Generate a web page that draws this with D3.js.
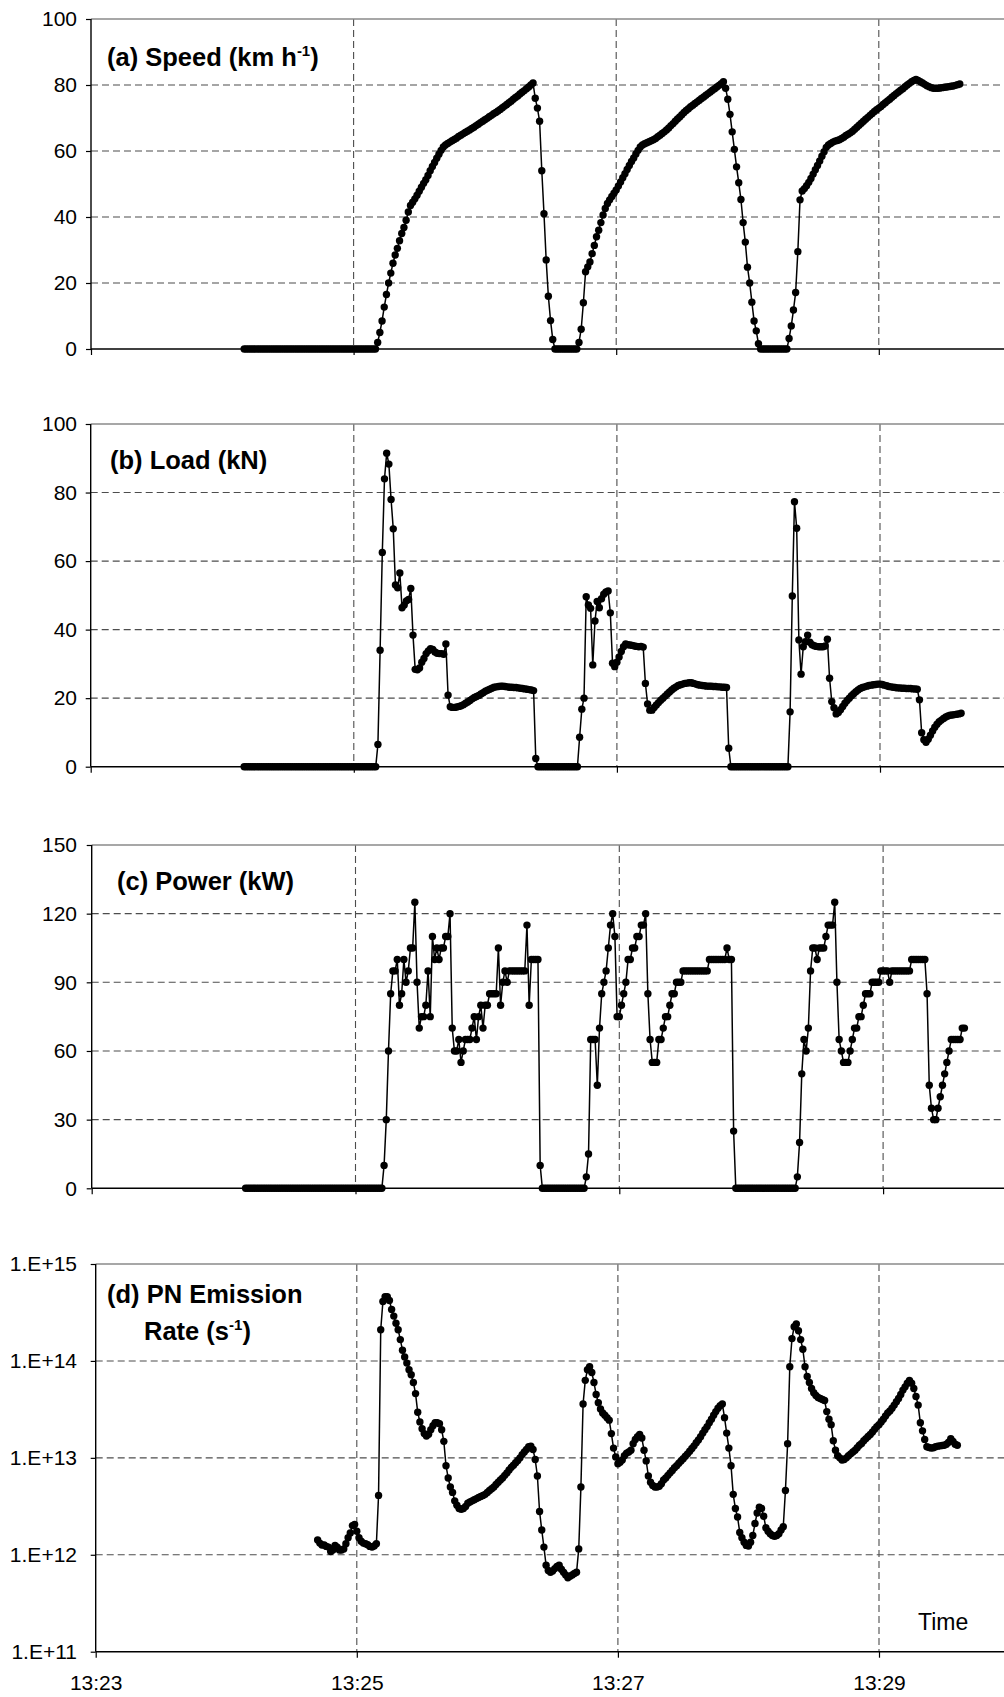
<!DOCTYPE html>
<html>
<head>
<meta charset="utf-8">
<script src="https://cdn.jsdelivr.net/npm/d3@7/dist/d3.min.js"></script>
<style>
  html, body { margin: 0; padding: 0; background: #fff; }
  svg { display: block; font-family: "Liberation Sans", Arial, Helvetica, sans-serif; }
</style>
</head>
<body>
<svg id="chart" width="1004" height="1697"></svg>
<script>
// ---- Data: one reading per second ----
const speedStart = "13:24:10";
const speedKmh = [
  0,0,0,0,0,0,0,0,0,0,0,0,0,0,0,0,0,0,0,0,0,0,0,0,0,0,0,0,0,0,0,0,0,0,0,0,0,0,0,0,0,0,0,0,0,0,0,0,0,0,0,0,0,0,0,0,0,0,0,0,0,
  2,5,8.5,12.7,16.5,20,23,26,28.5,30.5,32.8,35,36.8,39,41.5,43.5,
  44.5,45.5,46.6,47.8,49,50.2,51.3,52.6,54,55.3,56.5,57.8,59,60.2,61.2,61.8,62.3,62.7,63.1,63.5,63.9,64.4,64.8,65.2,65.6,66,
  66.4,66.8,67.2,67.7,68.1,68.6,69,69.5,69.9,70.4,70.8,71.3,71.7,72.1,72.6,73.1,73.6,74.1,74.6,75.1,75.7,76.2,76.7,77.3,77.8,
  78.3,78.9,79.4,80,80.6,
  76,73,69,54,41,27,16,8.6,2.9,
  0,0,0,0,0,0,0,0,0,0,0,
  2,6,14,23.4,24.9,26.4,28.9,31.4,34,36,38.3,40.6,42.6,44.1,
  45.2,46.2,47.2,48.2,49.4,50.6,51.9,53.1,54.4,55.6,56.8,57.9,59.1,60.2,61.2,61.8,62.2,62.5,62.8,63.1,63.4,63.8,64.3,64.8,
  65.3,65.8,66.4,67,67.7,68.3,69,69.7,70.3,71,71.7,72.3,72.8,73.4,73.9,74.4,74.9,75.4,75.9,76.4,76.9,77.4,77.9,78.4,78.9,
  79.4,79.9,80.4,81,
  79,75.7,71.1,65.8,60.5,55.2,50.4,45.3,38.3,32.4,24.8,20,14.2,8.5,5.5,1.6,
  0,0,0,0,0,0,0,0,0,0,0,0,0,
  3.2,7,11.8,17.1,29.5,45.2,47.9,
  48.6,49.5,50.5,51.7,53,54.3,55.6,57,58.4,59.8,61.1,61.8,62.3,62.7,63,63.2,63.4,63.8,64.2,64.7,65.1,65.5,66,66.6,67.2,
  67.8,68.4,69,69.6,70.2,70.8,71.4,72,72.5,73,73.5,74.1,74.6,75.2,75.7,76.3,76.8,77.4,77.9,78.4,78.9,79.5,80,80.5,81,81.4,
  81.7,81.4,81,80.6,80.2,79.8,79.5,79.2,79,79,79,79.1,79.2,79.3,79.4,79.5,79.6,79.7,79.9,80.1,80.3
];

const loadStart = "13:24:10";
const loadKN = [
  0,0,0,0,0,0,0,0,0,0,0,0,0,0,0,0,0,0,0,0,0,0,0,0,0,0,0,0,0,0,0,0,0,0,0,0,0,0,0,0,0,0,0,0,0,0,0,0,0,0,0,0,0,0,0,0,0,0,0,0,0,
  6.5,34,62.5,84,91.5,88.3,78,69.4,53,52.2,56.5,46.4,47.2,48.4,48.8,52,38.4,28.4,28.3,28.8,
  30.5,31.6,33,33.8,34.4,34.2,33.5,33.1,33,33,32.8,35.8,20.9,17.5,17.3,17.3,17.4,17.6,17.8,18.1,18.5,18.9,19.3,19.8,20.2,
  20.5,20.8,21.2,21.6,22,22.3,22.6,22.9,23.2,23.3,23.4,23.5,23.5,23.4,23.3,23.2,23.2,23.1,23.1,23,22.9,22.8,22.7,22.6,22.5,
  22.4,22.2,
  2.4,
  0,0,0,0,0,0,0,0,0,0,0,0,0,0,0,0,0,0,0,
  8.6,16.8,20,49.6,47.2,46.2,29.7,42.5,48.2,46.4,49,50.3,51,51.3,44.9,
  30.2,29.2,30.5,32,33.6,35,35.8,35.6,35.5,35.4,35.2,35.1,35,35.1,34.9,24.3,18.3,16.5,16.5,17.3,18,18.7,19.4,20,20.6,21.2,
  21.8,22.4,22.9,23.3,23.7,23.9,24.1,24.3,24.4,24.5,24.5,24.3,24.1,23.9,23.8,23.7,23.6,23.5,23.5,23.5,23.4,23.4,23.3,23.3,
  23.2,23.2,23.1,
  5.4,
  0,0,0,0,0,0,0,0,0,0,0,0,0,0,0,0,0,0,0,0,0,0,0,0,0,0,0,
  16,49.8,77.3,69.6,37,27,35,36.5,38.4,36.3,35.6,35.3,35.1,35,35,35,35.2,37.2,25.8,19,17.2,15.4,15.8,16.6,17.6,18.5,19.3,
  20,20.7,21.3,21.9,22.4,22.8,23.1,23.3,23.5,23.7,23.8,23.9,24,24.1,24.1,24,23.8,23.6,23.4,23.3,23.2,23.1,23,23,22.9,22.9,
  22.8,22.8,22.8,22.7,22.7,22.6,19.5,9.9,7.9,7.1,8,9.2,10.4,11.5,12.4,13.1,13.6,14.1,14.5,14.8,15,15.1,15.2,15.3,15.4,15.6
];

const powerStart = "13:24:10";
const powerKW = [
  0,0,0,0,0,0,0,0,0,0,0,0,0,0,0,0,0,0,0,0,0,0,0,0,0,0,0,0,0,0,0,0,0,0,0,0,0,0,0,0,0,0,0,0,0,0,0,0,0,0,0,0,0,0,0,0,0,0,0,0,
  0,0,0,
  10,30,60,85,95,95,100,80,85,100,90,95,105,105,125,90,70,75,75,80,95,75,110,100,105,100,105,105,110,110,120,70,60,60,
  65,55,60,65,65,65,70,75,65,75,80,70,80,80,85,85,85,85,105,80,90,95,90,95,95,95,95,95,95,95,95,115,80,100,100,100,100,10,
  0,0,0,0,0,0,0,0,0,0,0,0,0,0,0,0,0,0,0,0,
  5,15,65,65,65,45,70,85,90,95,105,115,120,110,75,75,80,85,90,100,100,105,105,110,110,115,115,120,85,65,55,55,55,65,65,
  70,75,75,80,85,85,90,90,90,95,95,95,95,95,95,95,95,95,95,95,95,100,100,100,100,100,100,100,100,105,100,100,25,
  0,0,0,0,0,0,0,0,0,0,0,0,0,0,0,0,0,0,0,0,0,0,0,0,0,0,0,0,
  5,20,50,65,60,70,95,105,105,100,105,105,105,110,115,115,115,125,90,65,60,55,55,55,60,65,70,70,75,75,80,85,85,85,90,90,
  90,90,95,95,95,95,90,95,95,95,95,95,95,95,95,95,100,100,100,100,100,100,100,85,45,35,30,30,35,40,45,50,55,60,65,65,65,
  65,65,70,70
];

const pnStart = "13:24:42";
const pnRate = [
  1.42e12,1.32e12,1.26e12,1.26e12,1.22e12,1.2e12,1.08e12,1.12e12,1.25e12,1.2e12,1.12e12,1.12e12,1.15e12,1.3e12,1.5e12,
  1.68e12,2.0e12,2.05e12,1.75e12,1.5e12,1.38e12,1.32e12,1.3e12,1.27e12,1.22e12,1.2e12,1.23e12,1.3e12,
  4.1e12,2.1e14,4.1e14,4.6e14,4.6e14,4.2e14,3.4e14,2.9e14,2.45e14,2.1e14,1.66e14,1.29e14,1.1e14,9.5e13,8.1e13,7.2e13,
  6.0e13,4.6e13,2.95e13,2.35e13,2.0e13,1.78e13,1.68e13,1.75e13,1.95e13,2.15e13,2.3e13,2.3e13,2.25e13,1.95e13,1.48e13,
  8.3e12,6.2e12,5.0e12,4.4e12,3.6e12,3.25e12,3.0e12,2.95e12,3.0e12,3.15e12,
  3.4e12,3.5e12,3.6e12,3.7e12,3.8e12,3.9e12,4.0e12,4.1e12,4.2e12,4.4e12,4.6e12,4.8e12,5.0e12,5.3e12,5.6e12,5.9e12,6.2e12,
  6.6e12,7.0e12,7.5e12,8.0e12,8.4e12,8.9e12,9.4e12,1.0e13,1.08e13,1.15e13,1.22e13,1.3e13,1.32e13,1.22e13,
  9.6e12,6.5e12,2.8e12,1.8e12,1.2e12,7.8e11,6.9e11,6.6e11,6.8e11,7.2e11,7.6e11,7.8e11,7.1e11,6.6e11,6.2e11,5.8e11,6.0e11,
  6.2e11,6.4e11,6.6e11,1.15e12,5.0e12,3.6e13,6.3e13,8.1e13,8.7e13,7.6e13,6.0e13,
  4.5e13,3.7e13,3.2e13,2.9e13,2.75e13,2.6e13,2.45e13,1.78e13,1.26e13,1.02e13,8.7e12,9.0e12,9.5e12,1.05e13,1.12e13,1.15e13,
  1.2e13,1.4e13,1.55e13,1.65e13,1.74e13,1.6e13,1.2e13,9.3e12,6.5e12,5.6e12,5.2e12,5.0e12,5.0e12,5.1e12,5.4e12,5.9e12,
  6.2e12,6.6e12,7.0e12,7.4e12,7.9e12,8.3e12,8.8e12,9.3e12,
  9.8e12,1.04e13,1.1e13,1.17e13,1.25e13,1.33e13,1.43e13,1.53e13,1.65e13,1.8e13,1.95e13,2.1e13,2.3e13,2.5e13,2.75e13,3.0e13,
  3.25e13,3.45e13,3.6e13,2.6e13,1.8e13,1.26e13,8.3e12,4.2e12,3.0e12,2.45e12,1.7e12,1.5e12,1.35e12,1.25e12,
  1.23e12,1.35e12,1.58e12,2.1e12,2.7e12,3.1e12,3.0e12,2.5e12,1.9e12,1.75e12,1.65e12,1.58e12,1.55e12,1.58e12,1.65e12,
  1.8e12,1.95e12,4.6e12,1.4e13,8.7e13,1.7e14,2.25e14,2.4e14,2.05e14,1.66e14,1.32e14,8.7e13,6.9e13,6.0e13,5.2e13,
  4.7e13,4.4e13,4.2e13,4.1e13,4.0e13,3.9e13,3.0e13,2.5e13,2.2e13,1.5e13,1.2e13,1.05e13,1.0e13,9.5e12,9.6e12,1.0e13,
  1.05e13,1.1e13,1.15e13,1.2e13,1.27e13,1.35e13,1.41e13,1.5e13,1.58e13,1.66e13,1.74e13,1.85e13,1.97e13,2.1e13,
  2.2e13,2.35e13,2.5e13,2.7e13,2.9e13,3.05e13,3.25e13,3.5e13,3.8e13,4.1e13,4.5e13,5.0e13,5.4e13,5.9e13,6.3e13,5.9e13,
  5.2e13,4.3e13,3.5e13,2.3e13,1.9e13,1.55e13,1.3e13,1.28e13,1.26e13,1.27e13,1.3e13,1.32e13,1.33e13,1.34e13,1.35e13,
  1.38e13,1.45e13,1.58e13,1.48e13,1.38e13,1.35e13
];

// ---- Axis ticks ----
const timeTickLabels = ["13:23", "13:25", "13:27", "13:29"];
const timeDomain = ["13:23:00", "13:31:00"];
const speedTicks = [0, 20, 40, 60, 80, 100];
const loadTicks = [0, 20, 40, 60, 80, 100];
const powerTicks = [0, 30, 60, 90, 120, 150];
const pnTicks = [1e11, 1e12, 1e13, 1e14, 1e15];

// ---- Helpers ----
const parseHMS = d3.timeParse("%H:%M:%S");
const parseHM = d3.timeParse("%H:%M");
const W = 1004;
const svg = d3.select("#chart");

function toSeries(start, values) {
  const t0 = parseHMS(start).getTime();
  return values.map((v, i) => ({ t: new Date(t0 + i * 1000), v }));
}

const panels = [
  { key: "a", series: toSeries(speedStart, speedKmh), ticks: speedTicks, log: false,
    left: 91, pxPerMin: 131.3, top: 19, bottom: 349,
    title: [{ x: 107, y: 65.5, parts: ["(a) Speed (km h", "-1", ")"] }] },
  { key: "b", series: toSeries(loadStart, loadKN), ticks: loadTicks, log: false,
    left: 90.7, pxPerMin: 131.55, top: 424, bottom: 766.7,
    title: [{ x: 110, y: 468.5, parts: ["(b) Load (kN)"] }] },
  { key: "c", series: toSeries(powerStart, powerKW), ticks: powerTicks, log: false,
    left: 91.7, pxPerMin: 131.9, top: 845, bottom: 1188.3,
    title: [{ x: 117, y: 889.5, parts: ["(c) Power (kW)"] }] },
  { key: "d", series: toSeries(pnStart, pnRate), ticks: pnTicks, log: true,
    left: 95.7, pxPerMin: 130.55, top: 1264, bottom: 1651.7,
    title: [{ x: 107, y: 1303, parts: ["(d) PN Emission"] },
            { x: 144, y: 1339.5, parts: ["Rate (s", "-1", ")"] }],
    timeLabels: true }
];

const tickLabelRight = 77;
const titleSize = 25.5;

panels.forEach(p => {
  const g = svg.append("g").attr("class", "panel-" + p.key);
  const tDom = timeDomain.map(parseHMS);
  const x = d3.scaleTime().domain(tDom).range([p.left, p.left + 8 * p.pxPerMin]);
  const y = p.log
    ? d3.scaleLog().domain([1e11, 1e15]).range([p.bottom, p.top])
    : d3.scaleLinear().domain([0, d3.max(p.ticks)]).range([p.bottom, p.top]);

  const timeTicks = timeTickLabels.map(parseHM);

  // horizontal dashed grid (inner ticks only)
  const inner = p.ticks.slice(1, -1);
  g.append("g").selectAll("line").data(inner).join("line")
    .attr("x1", p.left).attr("x2", W)
    .attr("y1", d => y(d)).attr("y2", d => y(d))
    .attr("stroke", "#4d4d4d").attr("stroke-width", 1.1)
    .attr("stroke-dasharray", "7,4");

  // vertical dashed grid at 13:25, 13:27, 13:29
  g.append("g").selectAll("line").data(timeTicks.slice(1)).join("line")
    .attr("x1", d => x(d)).attr("x2", d => x(d))
    .attr("y1", p.top).attr("y2", p.bottom)
    .attr("stroke", "#4d4d4d").attr("stroke-width", 1.1)
    .attr("stroke-dasharray", "7,4");

  // plot area top border
  g.append("line")
    .attr("x1", p.left).attr("x2", W)
    .attr("y1", p.top).attr("y2", p.top)
    .attr("stroke", "#8a8a8a").attr("stroke-width", 1.6);

  // y axis
  const yAxis = d3.axisLeft(y)
    .tickValues(p.ticks)
    .tickSize(5)
    .tickPadding(p.left - 5 - tickLabelRight)
    .tickFormat(p.log ? (d => "1.E+" + Math.round(Math.log10(d))) : d3.format("d"));
  const ya = g.append("g").attr("transform", `translate(${p.left},0)`).call(yAxis);
  ya.select(".domain").attr("stroke", "#000").attr("stroke-width", 1.4)
    .attr("d", `M0,${p.bottom}V${p.top}`);
  ya.selectAll(".tick line").attr("stroke", "#000").attr("stroke-width", 1.2);
  ya.selectAll(".tick text").attr("fill", "#000")
    .style("font-size", "21px").style("font-family", '"Liberation Sans", Arial, sans-serif');

  // x axis
  const xAxis = d3.axisBottom(x)
    .tickValues(timeTicks)
    .tickSize(6)
    .tickPadding(17)
    .tickFormat(p.timeLabels ? d3.timeFormat("%H:%M") : () => "");
  const xa = g.append("g").attr("transform", `translate(0,${p.bottom})`).call(xAxis);
  xa.select(".domain").attr("stroke", "#000").attr("stroke-width", 1.4)
    .attr("d", `M${p.left},0H${W}`);
  xa.selectAll(".tick line").attr("stroke", "#000").attr("stroke-width", 1.2);
  xa.selectAll(".tick text").attr("fill", "#000")
    .style("font-size", "21px").style("font-family", '"Liberation Sans", Arial, sans-serif');

  // series line and markers
  const line = d3.line().x(d => x(d.t)).y(d => y(d.v));
  g.append("path").datum(p.series)
    .attr("d", line).attr("fill", "none")
    .attr("stroke", "#000").attr("stroke-width", 1.5).attr("stroke-linejoin", "round");
  g.append("g").selectAll("circle").data(p.series).join("circle")
    .attr("cx", d => x(d.t)).attr("cy", d => y(d.v))
    .attr("r", 3.7).attr("fill", "#000");

  // panel title
  p.title.forEach(tl => {
    const txt = g.append("text")
      .attr("x", tl.x).attr("y", tl.y)
      .attr("font-weight", "bold").attr("font-size", titleSize).attr("fill", "#000");
    tl.parts.forEach((part, i) => {
      if (i === 1) {
        txt.append("tspan").attr("font-size", 15).attr("dy", -10).text(part);
      } else if (i === 2) {
        txt.append("tspan").attr("font-size", titleSize).attr("dy", 10).text(part);
      } else {
        txt.append("tspan").text(part);
      }
    });
  });

  if (p.timeLabels) {
    g.append("text").attr("x", 918).attr("y", 1630)
      .attr("font-size", 23).attr("fill", "#000").text("Time");
  }
});
</script>
</body>
</html>
